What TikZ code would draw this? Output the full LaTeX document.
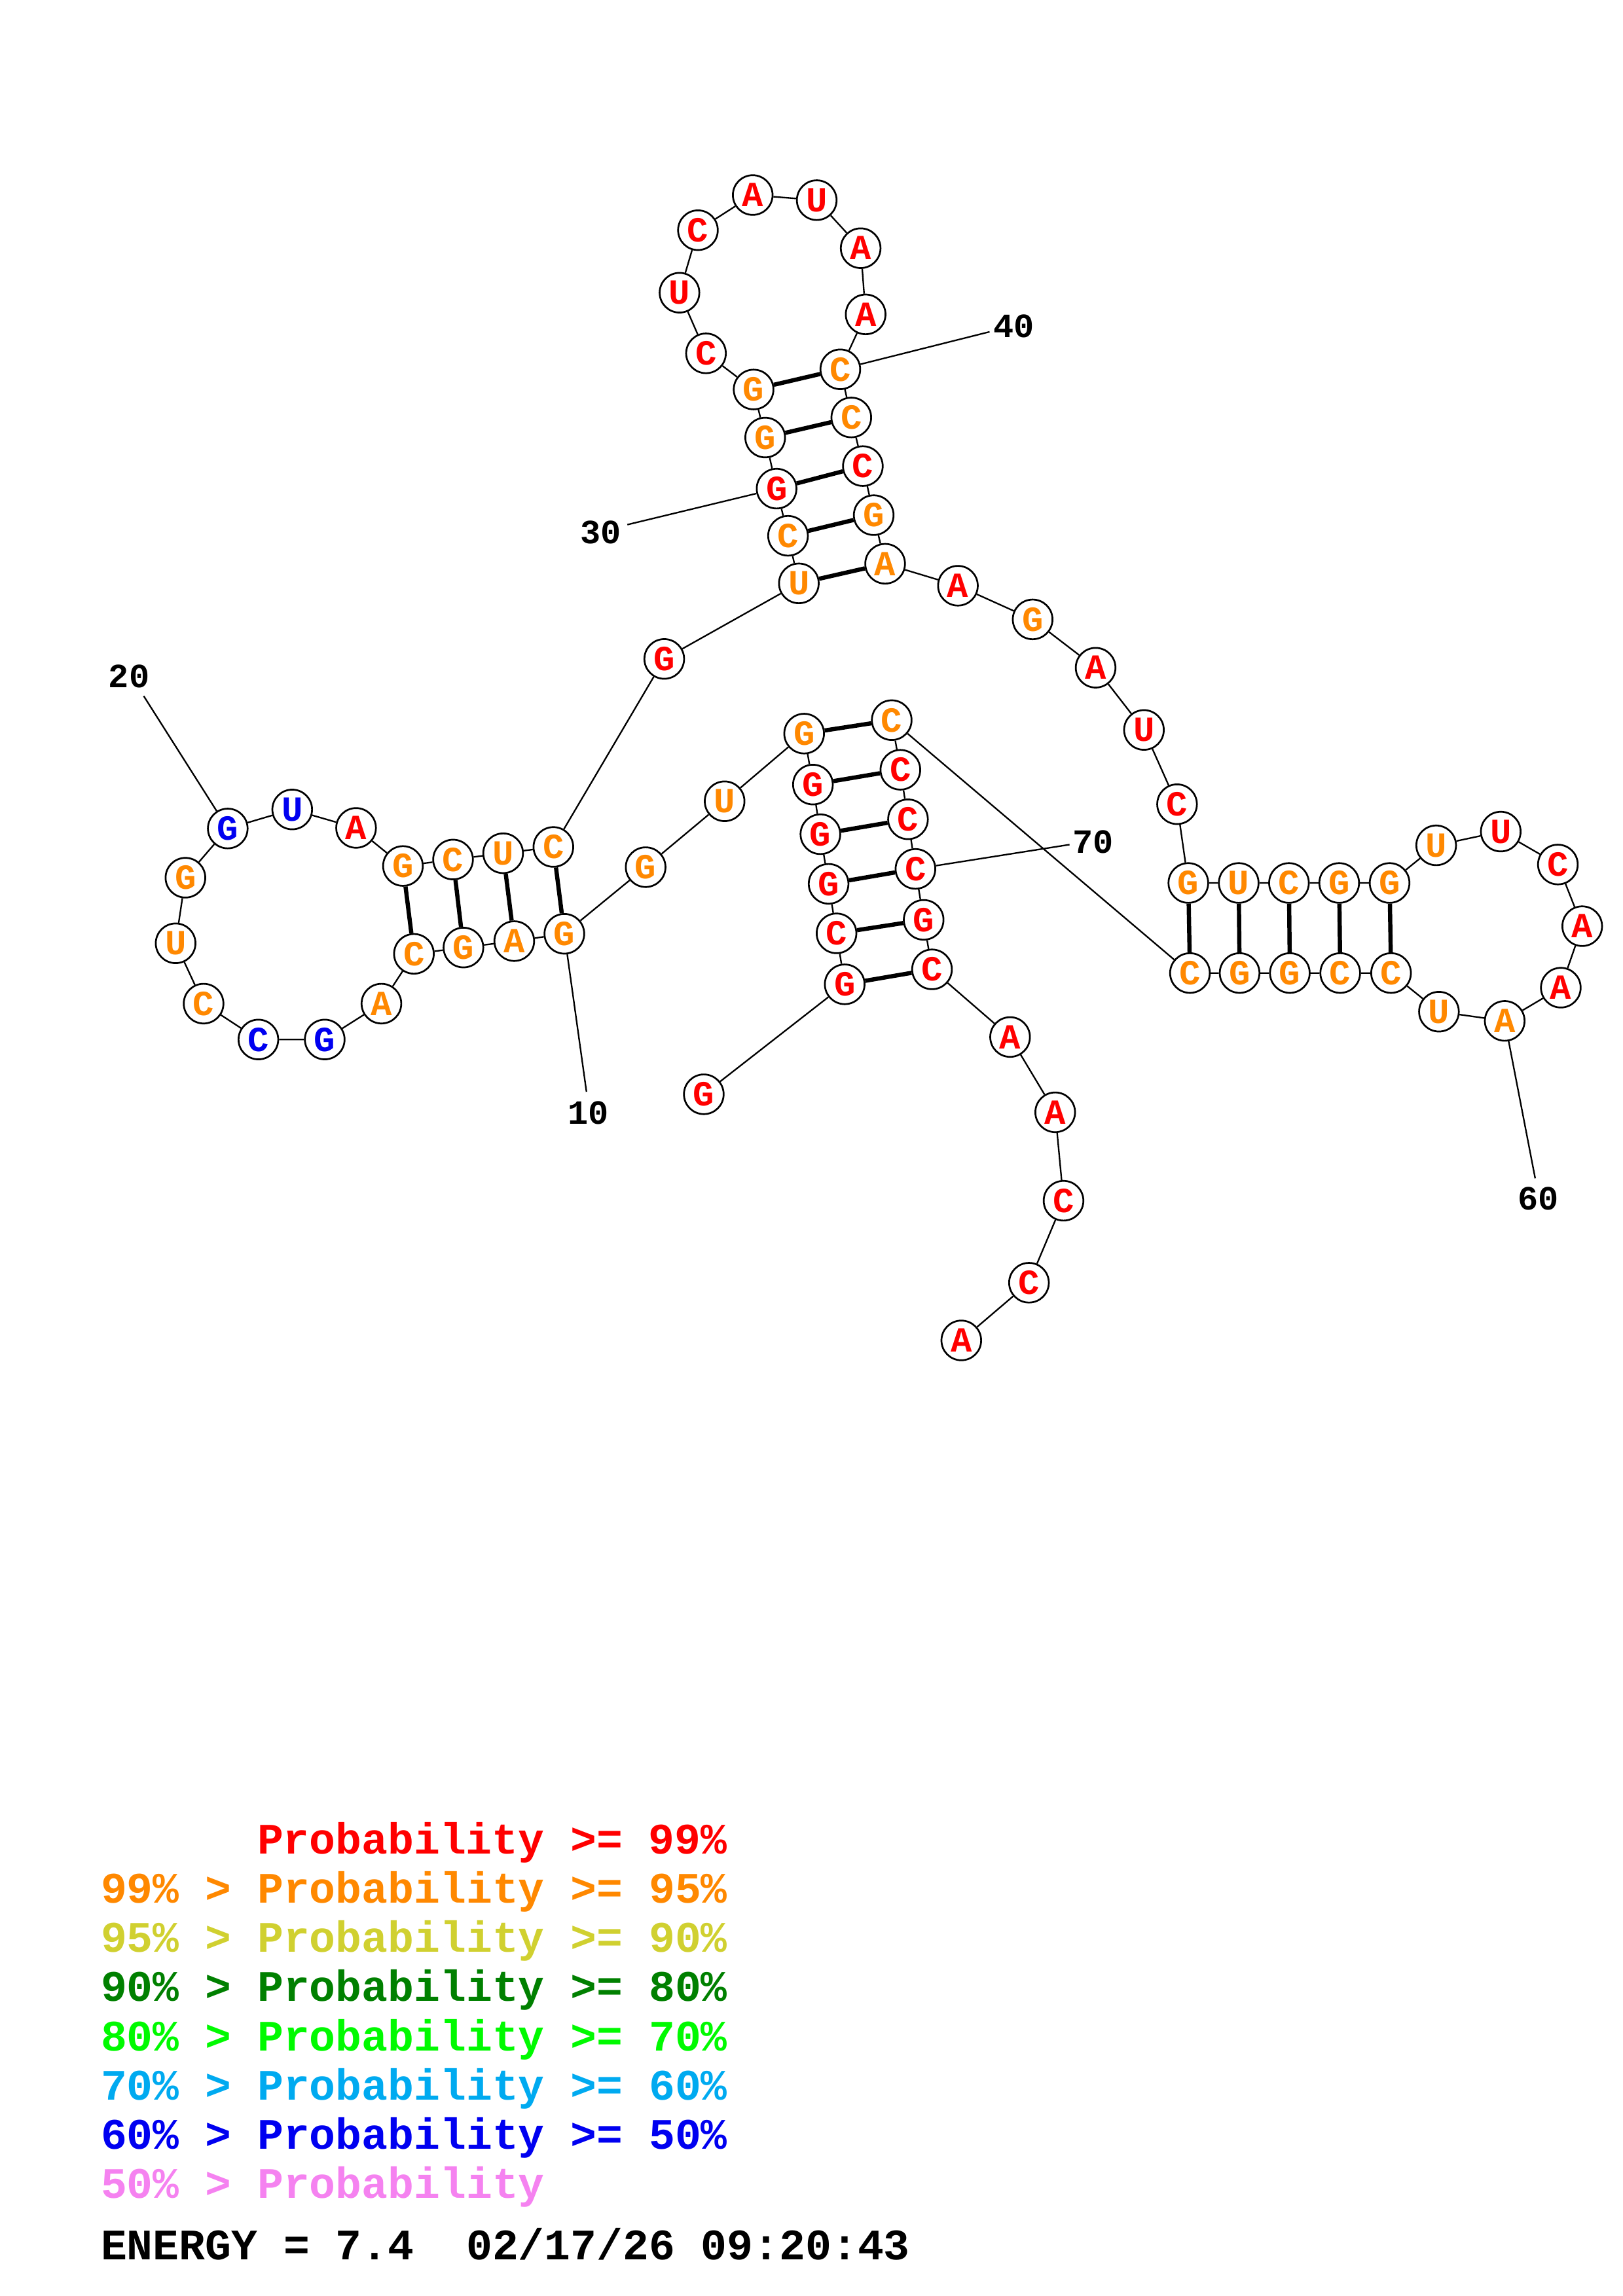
\documentclass[tikz,border=0pt]{standalone}
\usepackage{fontspec}
\setmainfont{Liberation Mono}
\usepackage{xcolor}
\usepackage{tikz}
\usetikzlibrary{positioning}

\definecolor{pred}{RGB}{255,0,0}
\definecolor{porange}{RGB}{255,136,0}
\definecolor{pyellow}{RGB}{208,208,48}
\definecolor{pdgreen}{RGB}{0,128,0}
\definecolor{pgreen}{RGB}{0,250,0}
\definecolor{pcyan}{RGB}{0,170,240}
\definecolor{pblue}{RGB}{0,0,240}
\definecolor{ppink}{RGB}{245,130,240}

\begin{document}
\begin{tikzpicture}[x=0.018941cm,y=-0.018941cm,
  nt/.style={circle,draw=black,fill=white,line width=0.65pt,inner sep=0pt,minimum size=14.6pt,font=\fontsize{13}{13}\selectfont\bfseries},
  ntred/.style={nt,text=pred},
  ntorange/.style={nt,text=porange},
  ntblue/.style={nt,text=pblue},
  bb/.style={line width=0.56pt},
  pairbond/.style={line width=1.55pt},
  numlbl/.style={font=\fontsize{12.5}{12.5}\selectfont\bfseries},
  legend/.style={anchor=base west,inner sep=0pt,font=\fontsize{16}{16}\selectfont\bfseries}]
  \useasboundingbox (0,0) rectangle (1108,1568);
  % nucleotides
  \node[ntred] (1) at (480.5,747.3) {G};
  \node[ntred] (2) at (576.7,672.2) {G};
  \node[ntred] (3) at (571.1,637.4) {C};
  \node[ntred] (4) at (565.7,603.6) {G};
  \node[ntred] (5) at (560.1,569.7) {G};
  \node[ntred] (6) at (555.0,535.8) {G};
  \node[ntorange] (7) at (549.0,501.0) {G};
  \node[ntorange] (8) at (494.7,547.2) {U};
  \node[ntorange] (9) at (440.8,592.2) {G};
  \node[ntorange] (10) at (385.3,637.7) {G};
  \node[ntorange] (11) at (351.1,642.7) {A};
  \node[ntorange] (12) at (316.4,647.1) {G};
  \node[ntorange] (13) at (282.6,651.4) {C};
  \node[ntorange] (14) at (260.4,685.4) {A};
  \node[ntblue] (15) at (221.7,709.9) {G};
  \node[ntblue] (16) at (176.4,709.9) {C};
  \node[ntorange] (17) at (139.0,685.4) {C};
  \node[ntorange] (18) at (119.9,644.2) {U};
  \node[ntorange] (19) at (126.6,599.4) {G};
  \node[ntblue] (20) at (155.5,565.8) {G};
  \node[ntblue] (21) at (199.5,552.8) {U};
  \node[ntred] (22) at (243.1,565.4) {A};
  \node[ntorange] (23) at (275.1,591.4) {G};
  \node[ntorange] (24) at (309.3,587.0) {C};
  \node[ntorange] (25) at (343.5,582.7) {U};
  \node[ntorange] (26) at (377.8,578.4) {C};
  \node[ntred] (27) at (453.5,450.0) {G};
  \node[ntorange] (28) at (545.4,398.4) {U};
  \node[ntorange] (29) at (538.0,365.9) {C};
  \node[ntred] (30) at (530.2,333.7) {G};
  \node[ntorange] (31) at (522.4,298.8) {G};
  \node[ntorange] (32) at (514.5,266.0) {G};
  \node[ntred] (33) at (482.0,241.3) {C};
  \node[ntred] (34) at (463.9,199.9) {U};
  \node[ntred] (35) at (476.5,157.2) {C};
  \node[ntred] (36) at (513.9,133.2) {A};
  \node[ntred] (37) at (557.6,136.7) {U};
  \node[ntred] (38) at (587.6,169.5) {A};
  \node[ntred] (39) at (591.0,214.7) {A};
  \node[ntorange] (40) at (573.7,252.2) {C};
  \node[ntorange] (41) at (581.2,285.1) {C};
  \node[ntred] (42) at (589.1,318.3) {C};
  \node[ntorange] (43) at (596.5,351.8) {G};
  \node[ntorange] (44) at (604.3,385.0) {A};
  \node[ntred] (45) at (654.0,400.0) {A};
  \node[ntorange] (46) at (705.0,423.0) {G};
  \node[ntred] (47) at (748.0,456.0) {A};
  \node[ntred] (48) at (781.0,498.5) {U};
  \node[ntred] (49) at (803.6,549.2) {C};
  \node[ntorange] (50) at (811.3,603.0) {G};
  \node[ntorange] (51) at (845.7,603.0) {U};
  \node[ntorange] (52) at (880.0,603.0) {C};
  \node[ntorange] (53) at (914.3,603.0) {G};
  \node[ntorange] (54) at (948.7,603.0) {G};
  \node[ntorange] (55) at (980.5,577.3) {U};
  \node[ntred] (56) at (1024.6,567.9) {U};
  \node[ntred] (57) at (1063.6,590.4) {C};
  \node[ntred] (58) at (1080.2,632.5) {A};
  \node[ntred] (59) at (1065.6,674.5) {A};
  \node[ntorange] (60) at (1027.3,697.2) {A};
  \node[ntorange] (61) at (982.4,690.9) {U};
  \node[ntorange] (62) at (949.7,664.5) {C};
  \node[ntorange] (63) at (915.0,664.5) {C};
  \node[ntorange] (64) at (880.6,664.5) {G};
  \node[ntorange] (65) at (846.3,664.5) {G};
  \node[ntorange] (66) at (812.4,664.5) {C};
  \node[ntorange] (67) at (608.8,491.8) {C};
  \node[ntred] (68) at (614.7,525.7) {C};
  \node[ntred] (69) at (619.9,559.5) {C};
  \node[ntred] (70) at (625.0,593.4) {C};
  \node[ntred] (71) at (630.6,628.2) {G};
  \node[ntred] (72) at (636.3,662.0) {C};
  \node[ntred] (73) at (689.6,708.2) {A};
  \node[ntred] (74) at (720.4,759.6) {A};
  \node[ntred] (75) at (726.1,820.0) {C};
  \node[ntred] (76) at (702.5,876.0) {C};
  \node[ntred] (77) at (656.3,915.4) {A};
  % backbone
  \draw[bb] (1) -- (2) -- (3) -- (4) -- (5) -- (6) -- (7) -- (8) -- (9) -- (10) -- (11) -- (12) -- (13)
    -- (14) -- (15) -- (16) -- (17) -- (18) -- (19) -- (20) -- (21) -- (22) -- (23) -- (24) -- (25)
    -- (26) -- (27) -- (28) -- (29) -- (30) -- (31) -- (32) -- (33) -- (34) -- (35) -- (36) -- (37)
    -- (38) -- (39) -- (40) -- (41) -- (42) -- (43) -- (44) -- (45) -- (46) -- (47) -- (48) -- (49)
    -- (50) -- (51) -- (52) -- (53) -- (54) -- (55) -- (56) -- (57) -- (58) -- (59) -- (60) -- (61)
    -- (62) -- (63) -- (64) -- (65) -- (66) -- (67) -- (68) -- (69) -- (70) -- (71) -- (72) -- (73)
    -- (74) -- (75) -- (76) -- (77);
  % base pairs
  \draw[pairbond] (2) -- (72);
  \draw[pairbond] (3) -- (71);
  \draw[pairbond] (4) -- (70);
  \draw[pairbond] (5) -- (69);
  \draw[pairbond] (6) -- (68);
  \draw[pairbond] (7) -- (67);
  \draw[pairbond] (10) -- (26);
  \draw[pairbond] (11) -- (25);
  \draw[pairbond] (12) -- (24);
  \draw[pairbond] (13) -- (23);
  \draw[pairbond] (28) -- (44);
  \draw[pairbond] (29) -- (43);
  \draw[pairbond] (30) -- (42);
  \draw[pairbond] (31) -- (41);
  \draw[pairbond] (32) -- (40);
  \draw[pairbond] (50) -- (66);
  \draw[pairbond] (51) -- (65);
  \draw[pairbond] (52) -- (64);
  \draw[pairbond] (53) -- (63);
  \draw[pairbond] (54) -- (62);
  % position numbers
  \coordinate (t10) at (400.4,745.6);
  \coordinate (t20) at (98.1,475.3);
  \coordinate (t30) at (428.3,358.3);
  \coordinate (t40) at (675.6,226.6);
  \coordinate (t60) at (1048.1,804.7);
  \coordinate (t70) at (730.2,576.8);
  \draw[bb] (10) -- (t10);
  \draw[bb] (20) -- (t20);
  \draw[bb] (30) -- (t30);
  \draw[bb] (40) -- (t40);
  \draw[bb] (60) -- (t60);
  \draw[bb] (70) -- (t70);
  \node[numlbl] (n10) at (401.5,760.0) {10};
  \node[numlbl] (n20) at (88.1,461.8) {20};
  \node[numlbl] (n30) at (410.0,363.5) {30};
  \node[numlbl] (n40) at (692.3,222.9) {40};
  \node[numlbl] (n60) at (1050.2,818.8) {60};
  \node[numlbl] (n70) at (746.1,574.9) {70};
  % legend
  \node[legend,text=pred] (leg99) at (175.3,1266.0) {Probability >= 99\%};
  \node[legend,text=porange] (leg95) at (68.5,1299.6) {99\% > Probability >= 95\%};
  \node[legend,text=pyellow] (leg90) at (68.5,1333.2) {95\% > Probability >= 90\%};
  \node[legend,text=pdgreen] (leg80) at (68.5,1366.8) {90\% > Probability >= 80\%};
  \node[legend,text=pgreen] (leg70) at (68.5,1400.4) {80\% > Probability >= 70\%};
  \node[legend,text=pcyan] (leg60) at (68.5,1434.0) {70\% > Probability >= 60\%};
  \node[legend,text=pblue] (leg50) at (68.5,1467.6) {60\% > Probability >= 50\%};
  \node[legend,text=ppink] (leg00) at (68.5,1501.2) {50\% > Probability};
  \node[legend,text=black] (energy) at (68.5,1543.0) {ENERGY = 7.4~~02/17/26 09:20:43};
\end{tikzpicture}
\end{document}
